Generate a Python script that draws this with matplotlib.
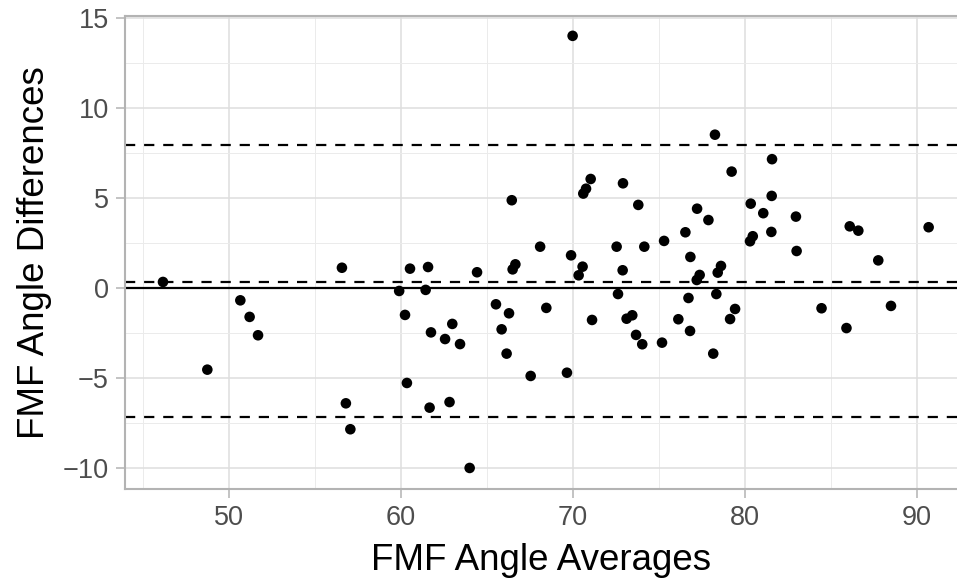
import matplotlib
matplotlib.use("Agg")
import matplotlib.pyplot as plt
from matplotlib.ticker import MultipleLocator

plt.rcParams['font.family'] = ['Liberation Sans', 'DejaVu Sans']

# averages (x) and differences (y)
averages = [46.16, 48.74, 50.66, 51.20, 51.69, 56.57, 56.80, 57.06, 59.90, 60.24,
            60.35, 60.53, 61.44, 61.58, 61.75, 61.67, 62.57, 62.83, 62.99, 63.44,
            64.00, 64.43, 65.53, 65.86, 66.15, 66.29, 66.45, 66.50, 66.66, 67.55,
            68.10, 68.46, 69.66, 69.90, 69.99, 70.34, 70.57, 70.61, 70.77, 71.04,
            71.12, 72.55, 72.63, 72.90, 72.92, 73.13, 73.46, 73.68, 73.81, 74.04,
            74.16, 75.19, 75.31, 76.14, 76.55, 76.73, 76.82, 76.84, 77.21, 77.23,
            77.38, 77.89, 78.17, 78.27, 78.35, 78.43, 78.62, 79.15, 79.24, 79.44,
            80.31, 80.35, 80.47, 81.08, 81.55, 81.57, 81.59, 82.98, 83.02, 84.47,
            85.92, 86.11, 86.61, 87.77, 88.51, 90.70]
differences = [0.35, -4.52, -0.67, -1.59, -2.61, 1.14, -6.39, -7.83, -0.15, -1.48,
               -5.26, 1.09, -0.09, 1.18, -2.45, -6.63, -2.82, -6.32, -1.98, -3.10,
               -9.98, 0.89, -0.89, -2.28, -3.63, -1.39, 4.89, 1.05, 1.33, -4.87,
               2.31, -1.09, -4.69, 1.83, 14.02, 0.72, 1.20, 5.26, 5.53, 6.07,
               -1.76, 2.31, -0.32, 1.00, 5.83, -1.69, -1.50, -2.59, 4.63, -3.11,
               2.31, -3.02, 2.63, -1.72, 3.11, -0.54, -2.37, 1.74, 0.46, 4.42,
               0.74, 3.79, -3.63, 8.53, -0.32, 0.87, 1.24, -1.71, 6.48, -1.15,
               2.61, 4.70, 2.89, 4.17, 3.13, 5.13, 7.17, 3.98, 2.07, -1.11,
               -2.21, 3.44, 3.20, 1.55, -0.98, 3.39]

mean_diff = 0.37
upper_loa = 7.94
lower_loa = -7.15

fig = plt.figure(figsize=(9.57, 5.83), dpi=100)
ax = fig.add_axes([0.1306, 0.1612, 0.8694, 0.8119])

border = '#B3B3B3'
ax.set_xlim(43.95, 92.35)
ax.set_ylim(-11.15, 15.14)
ax.xaxis.set_major_locator(MultipleLocator(10))
ax.xaxis.set_minor_locator(MultipleLocator(5))
ax.yaxis.set_major_locator(MultipleLocator(5))
ax.yaxis.set_minor_locator(MultipleLocator(2.5))

ax.grid(which='major', color='#DEDEDE', lw=1.1)
ax.grid(which='minor', color='#EBEBEB', lw=0.7)
ax.set_axisbelow(True)

for side in ['left', 'top', 'bottom']:
    ax.spines[side].set_color(border)
    ax.spines[side].set_linewidth(1.5)
ax.spines['right'].set_visible(False)

ax.tick_params(which='major', length=6.5, width=1.1, color=border,
               labelsize=19.5, labelcolor='#4D4D4D', pad=5)
ax.tick_params(which='minor', length=0)

ax.axhline(0, color='black', lw=1.6, zorder=2)
for level in [upper_loa, mean_diff, lower_loa]:
    ax.axhline(level, color='black', lw=1.6, dashes=(4.6, 4.0), zorder=2)

ax.scatter(averages, differences, s=58, color='black', edgecolors='none', zorder=3)

ax.set_xlabel('FMF Angle Averages', fontsize=26.5, labelpad=9)
ax.set_ylabel('FMF Angle Differences', fontsize=26.5, labelpad=8)

fig.savefig('out.png', dpi=100)
